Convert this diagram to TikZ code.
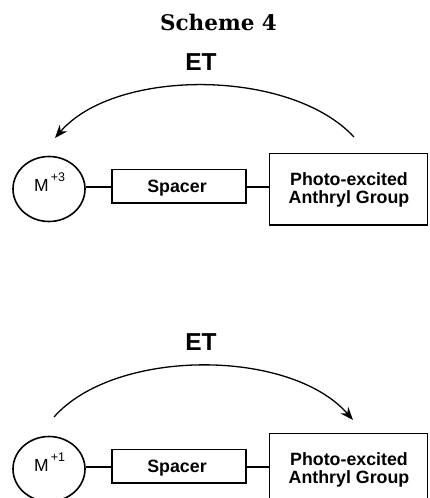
\documentclass[tikz,border=0pt]{standalone}
\usepackage{fontspec}
\newfontfamily\arialfont{Liberation Sans}
\newfontfamily\titlefont{DejaVu Serif}
\usetikzlibrary{shapes.geometric,arrows.meta}
\tikzset{
  lw/.style={line width=1.6pt},
  circ/.style={ellipse, draw, lw, minimum width=72pt, minimum height=65pt, inner sep=0pt},
  spacerbox/.style={rectangle, draw, lw, minimum width=134pt, minimum height=33.4pt, inner sep=0pt},
  anthbox/.style={rectangle, draw, lw, minimum width=158pt, minimum height=71.7pt, inner sep=0pt},
  lbl/.style={font=\arialfont\bfseries\fontsize{17.8}{18}\selectfont, inner sep=0pt},
  mtext/.style={font=\arialfont\fontsize{17.5}{18}\selectfont, inner sep=0pt},
  ettext/.style={font=\arialfont\bfseries\fontsize{24.5}{26}\selectfont, inner sep=0pt},
  link/.style={lw},
  etarrow/.style={line width=1.3pt, -{Stealth[length=13pt,width=10pt]}},
}
\begin{document}
\begin{tikzpicture}[x=1pt,y=-1pt]
\useasboundingbox (0,0) rectangle (429,498);
\node[font=\titlefont\bfseries\fontsize{21.5}{23}\selectfont, inner sep=0pt, anchor=base] (title) at (218.5,30) {Scheme 4};
% top scheme
\node[ettext, anchor=base] (et1) at (201,70) {ET};
\node[circ] (m1) at (49,189) {};
\node[mtext, anchor=base west] (m1t) at (34,191) {M\hspace{2pt}\raisebox{9.5pt}{\fontsize{12.5}{13}\selectfont +3}};
\node[spacerbox] (sp1) at (178.7,186) {};
\node[lbl, anchor=base] (sp1t) at (177,192) {Spacer};
\node[anthbox] (an1) at (348.5,189.2) {};
\node[lbl, align=center] (an1t) at (349,190) {Photo-excited\\Anthryl Group};
\draw[link] (m1.east |- 0,187) -- (sp1.west |- 0,187);
\draw[link] (sp1.east |- 0,187) -- (an1.west |- 0,187);
\coordinate (s1) at (354,137);
\coordinate (e1) at (55,138);
\draw[etarrow] (s1) .. controls (290,68) and (115,68) .. (e1);
% bottom scheme
\node[ettext, anchor=base] (et2) at (201,350) {ET};
\node[circ] (m2) at (49,469) {};
\node[mtext, anchor=base west] (m2t) at (34,471) {M\hspace{2pt}\raisebox{9.5pt}{\fontsize{12.5}{13}\selectfont +1}};
\node[spacerbox] (sp2) at (178.7,466) {};
\node[lbl, anchor=base] (sp2t) at (177,472) {Spacer};
\node[anthbox] (an2) at (348.5,469.2) {};
\node[lbl, align=center] (an2t) at (349,470) {Photo-excited\\Anthryl Group};
\draw[link] (m2.east |- 0,467) -- (sp2.west |- 0,467);
\draw[link] (sp2.east |- 0,467) -- (an2.west |- 0,467);
\coordinate (s2) at (54,417);
\coordinate (e2) at (353,420);
\draw[etarrow] (s2) .. controls (115,348) and (290,348) .. (e2);
\end{tikzpicture}
\end{document}
